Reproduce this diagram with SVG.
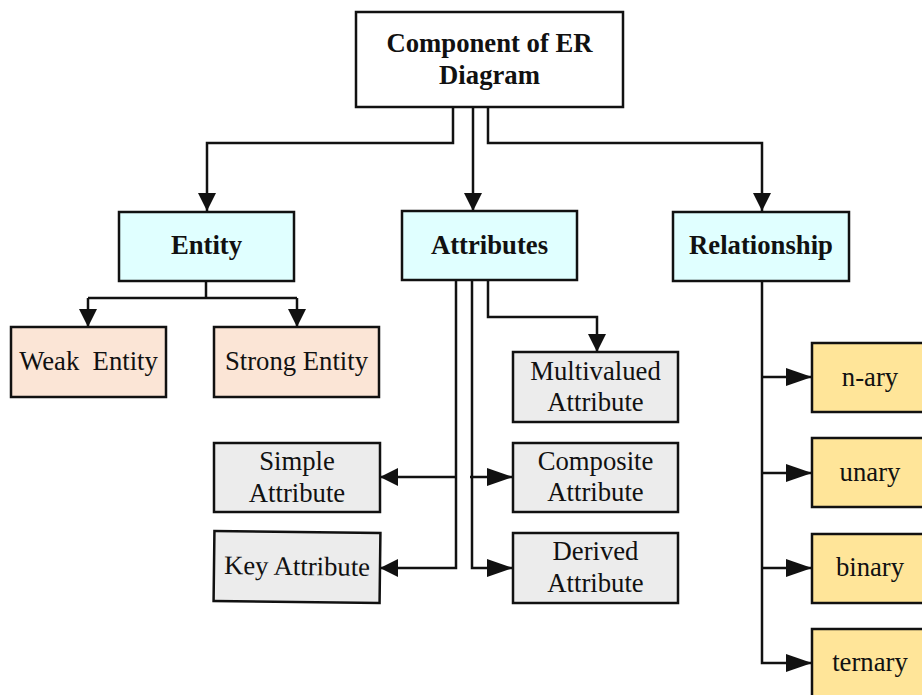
<svg xmlns="http://www.w3.org/2000/svg" width="922" height="695" viewBox="0 0 922 695">
  <style>
    .box { stroke: #111; stroke-width: 2.5; }
    .root { fill: #ffffff; }
    .cat { fill: #e0ffff; }
    .ent { fill: #fbe5d6; }
    .att { fill: #ececec; }
    .rel { fill: #ffe599; }
    text { font-family: "Liberation Serif", "Times New Roman", serif; font-size: 26.7px; fill: #111; text-anchor: middle; }
    .b { font-weight: bold; }
    .wire { fill: none; stroke: #111; stroke-width: 2.5; }
  </style>
  <defs>
    <marker id="tip" markerUnits="userSpaceOnUse" markerWidth="20" markerHeight="20" refX="18" refY="9" orient="auto">
      <path d="M0,0 L18,9 L0,18 z" fill="#111"/>
    </marker>
    <marker id="tipLong" markerUnits="userSpaceOnUse" markerWidth="28" markerHeight="20" refX="26" refY="9" orient="auto">
      <path d="M0,0 L26,9 L0,18 z" fill="#111"/>
    </marker>
  </defs>

  <!-- connectors -->
  <g id="connectors">
    <path class="wire" d="M453,107 V143 H207 V211" marker-end="url(#tip)"/>
    <path class="wire" d="M473,107 V211" marker-end="url(#tip)"/>
    <path class="wire" d="M488,107 V143 H762 V211" marker-end="url(#tip)"/>

    <path class="wire" d="M206,281 V298"/>
    <path class="wire" d="M88,298 H297"/>
    <path class="wire" d="M88,298 V327" marker-end="url(#tip)"/>
    <path class="wire" d="M297,298 V327" marker-end="url(#tip)"/>

    <path class="wire" d="M488,280 V317 H597 V352" marker-end="url(#tip)"/>
    <path class="wire" d="M456,280 V568 H380" marker-end="url(#tip)"/>
    <path class="wire" d="M456,477 H380" marker-end="url(#tip)"/>
    <path class="wire" d="M472,280 V568 H513" marker-end="url(#tipLong)"/>
    <path class="wire" d="M470,477 H513" marker-end="url(#tipLong)"/>

    <path class="wire" d="M762,281 V663 H812" marker-end="url(#tipLong)"/>
    <path class="wire" d="M762,377 H812" marker-end="url(#tipLong)"/>
    <path class="wire" d="M761,473 H812" marker-end="url(#tipLong)"/>
    <path class="wire" d="M762,568 H812" marker-end="url(#tipLong)"/>
  </g>

  <g id="root">
    <rect class="box root" x="356" y="12" width="267" height="95"/>
    <text class="b" x="489.5" y="52">Component of ER</text>
    <text class="b" x="489.5" y="84">Diagram</text>
  </g>

  <g id="entity">
    <rect class="box cat" x="119" y="212" width="175" height="69"/>
    <text class="b" x="206.5" y="254">Entity</text>
  </g>
  <g id="attributes">
    <rect class="box cat" x="402" y="211" width="175" height="69"/>
    <text class="b" x="489.5" y="254">Attributes</text>
  </g>
  <g id="relationship">
    <rect class="box cat" x="673" y="212" width="176" height="69"/>
    <text class="b" x="761" y="254">Relationship</text>
  </g>

  <g id="weak-entity">
    <rect class="box ent" x="11" y="327" width="155" height="70"/>
    <text x="88.5" y="370" xml:space="preserve">Weak  Entity</text>
  </g>
  <g id="strong-entity">
    <rect class="box ent" x="214" y="327" width="165" height="70"/>
    <text x="296.5" y="370">Strong Entity</text>
  </g>

  <g id="multivalued">
    <rect class="box att" x="513" y="352" width="165" height="70"/>
    <text x="595.5" y="380">Multivalued</text>
    <text x="595.5" y="411">Attribute</text>
  </g>
  <g id="composite">
    <rect class="box att" x="513" y="443" width="165" height="69"/>
    <text x="595.5" y="470">Composite</text>
    <text x="595.5" y="501">Attribute</text>
  </g>
  <g id="derived">
    <rect class="box att" x="513" y="533" width="165" height="70"/>
    <text x="595.5" y="560">Derived</text>
    <text x="595.5" y="592">Attribute</text>
  </g>
  <g id="simple">
    <rect class="box att" x="214" y="443" width="166" height="69"/>
    <text x="297" y="470">Simple</text>
    <text x="297" y="502">Attribute</text>
  </g>
  <g id="key" transform="rotate(0.7 297 567)">
    <rect class="box att" x="214" y="532" width="166" height="70"/>
    <text x="297" y="575">Key Attribute</text>
  </g>

  <g id="n-ary">
    <rect class="box rel" x="812" y="343" width="120" height="69"/>
    <text x="870" y="386">n-ary</text>
  </g>
  <g id="unary">
    <rect class="box rel" x="812" y="438" width="120" height="69"/>
    <text x="870" y="481">unary</text>
  </g>
  <g id="binary">
    <rect class="box rel" x="812" y="534" width="120" height="69"/>
    <text x="870" y="576">binary</text>
  </g>
  <g id="ternary">
    <rect class="box rel" x="812" y="629" width="120" height="80"/>
    <text x="870" y="671">ternary</text>
  </g>
</svg>
